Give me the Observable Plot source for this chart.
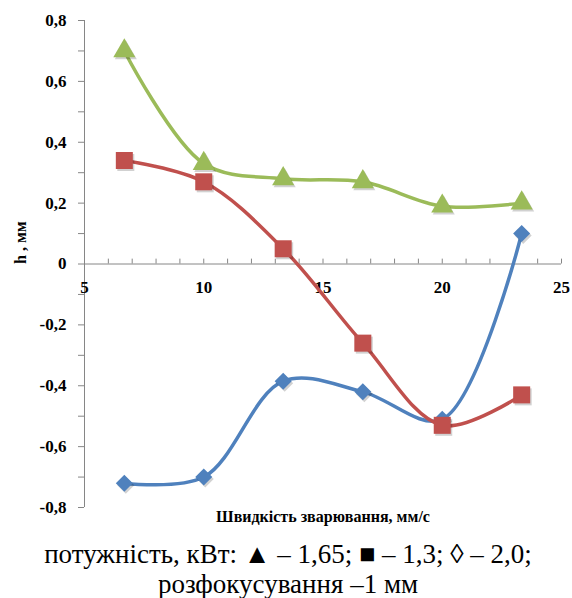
<!DOCTYPE html>
<html>
<head>
<meta charset="utf-8">
<script src="https://cdn.jsdelivr.net/npm/d3@7"></script>
<script src="https://cdn.jsdelivr.net/npm/@observablehq/plot@0.6"></script>
<style>
  html, body { margin: 0; padding: 0; background: #fff; }
  #chart { width: 572px; }
  #caption {
    width: 572px;
    text-align: center;
    font-family: 'Liberation Serif', 'Times New Roman', 'DejaVu Serif', serif;
    font-size: 27px;
    line-height: 30px;
    color: #000;
    padding-top: 6px;
    padding-left: 4px;
    box-sizing: border-box;
  }
</style>
</head>
<body>
<div id="chart"></div>
<div id="caption">потужність, кВт: ▲ – 1,65; ■ – 1,3; ◊ – 2,0;<br>розфокусування –1 мм</div>
<script>
// Welding speed, mm/s
const speeds = [6.67, 10, 13.33, 16.67, 20, 23.33];
// h, mm for each laser power
const h165 = [0.70, 0.33, 0.28, 0.27, 0.19, 0.20];   // ▲ 1.65 kW
const h13  = [0.34, 0.27, 0.05, -0.26, -0.53, -0.43]; // ■ 1.3 kW
const h20  = [-0.72, -0.70, -0.385, -0.42, -0.51, 0.10]; // ◊ 2.0 kW

const xTicks = [5, 10, 15, 20, 25];
const xMinor = [6, 7, 8, 9, 11, 12, 13, 14, 16, 17, 18, 19, 21, 22, 23, 24];
const yTicks = [-0.8, -0.6, -0.4, -0.2, 0, 0.2, 0.4, 0.6, 0.8];
const yMinor = [-0.7, -0.5, -0.3, -0.1, 0.1, 0.3, 0.5, 0.7];

const xTitle = "Швидкість зварювання, мм/с";
const yTitle = "h , мм";

const toRows = (vals) => speeds.map((s, i) => ({x: s, y: vals[i]}));
const rows165 = toRows(h165), rows13 = toRows(h13), rows20 = toRows(h20);

const fmtY = d => d === 0 ? "0" : d.toFixed(1).replace(".", ",");
const fmtX = d => String(d);
const serif = "'Liberation Serif', 'Times New Roman', 'DejaVu Serif', serif";
const axisColor = "#868686";
const cGreen = "#9BBB59", cRed = "#C0504D", cBlue = "#4F81BD";
const lw = 3.5;

const chart = Plot.plot({
  width: 572,
  height: 533,
  marginTop: 20,
  marginBottom: 26,
  marginLeft: 84,
  marginRight: 11,
  style: {fontFamily: serif, background: "#fff", color: "#000"},
  x: {domain: [5, 25], axis: null},
  y: {domain: [-0.8, 0.8], axis: null},
  marks: [
    // axis lines
    Plot.ruleX([5], {stroke: axisColor, strokeWidth: 1}),
    Plot.ruleY([0], {stroke: axisColor, strokeWidth: 1}),
    // y axis ticks + labels
    Plot.axisY(yTicks, {anchor: "left", label: null, tickSize: 6, tickPadding: 12, stroke: axisColor,
      tickFormat: fmtY, fontSize: 17, fontWeight: "bold", fontFamily: serif, fill: "#000"}),
    Plot.axisY(yMinor, {anchor: "left", label: null, tickSize: 6, stroke: axisColor, text: null}),
    // x ticks at y = 0, pointing up
    Plot.ruleX(xTicks.concat(xMinor), {x: d => d, y1: 0, y2: 0.016, stroke: axisColor, strokeWidth: 1}),
    Plot.text(xTicks, {x: d => d, y: 0, dy: 24, text: fmtX, fontSize: 17, fontWeight: "bold", fontFamily: serif, fill: "#000"}),
    // titles
    Plot.text([xTitle], {frameAnchor: "bottom", dy: 14, text: d => d, fontSize: 16, fontWeight: "bold", fontFamily: serif, fill: "#000"}),
    Plot.text([yTitle], {frameAnchor: "left", dx: -64, rotate: -90, text: d => d, fontSize: 16, fontWeight: "bold", fontFamily: serif, fill: "#000"}),
    // blue series (2.0 kW)
    Plot.line(rows20, {x: "x", y: "y", stroke: cBlue, strokeWidth: lw, curve: "catmull-rom"}),
    Plot.dot(rows20, {x: "x", y: "y", symbol: "square", r: 6.8, rotate: 45, fill: "#000", fillOpacity: 0.18, dx: 1.5, dy: 2}),
    Plot.dot(rows20, {x: "x", y: "y", symbol: "square", r: 6.8, rotate: 45, fill: cBlue}),
    // red series (1.3 kW)
    Plot.line(rows13, {x: "x", y: "y", stroke: cRed, strokeWidth: lw, curve: "catmull-rom"}),
    Plot.dot(rows13, {x: "x", y: "y", symbol: "square", r: 9.6, fill: "#000", fillOpacity: 0.18, dx: 1.5, dy: 2}),
    Plot.dot(rows13, {x: "x", y: "y", symbol: "square", r: 9.6, fill: cRed}),
    // green series (1.65 kW)
    Plot.line(rows165, {x: "x", y: "y", stroke: cGreen, strokeWidth: lw, curve: "catmull-rom"}),
    Plot.dot(rows165, {x: "x", y: "y", symbol: "triangle", r: 8.2, fill: "#000", fillOpacity: 0.18, dx: 1.5, dy: 2}),
    Plot.dot(rows165, {x: "x", y: "y", symbol: "triangle", r: 8.2, fill: cGreen})
  ]
});
document.getElementById("chart").appendChild(chart);
</script>
</body>
</html>
